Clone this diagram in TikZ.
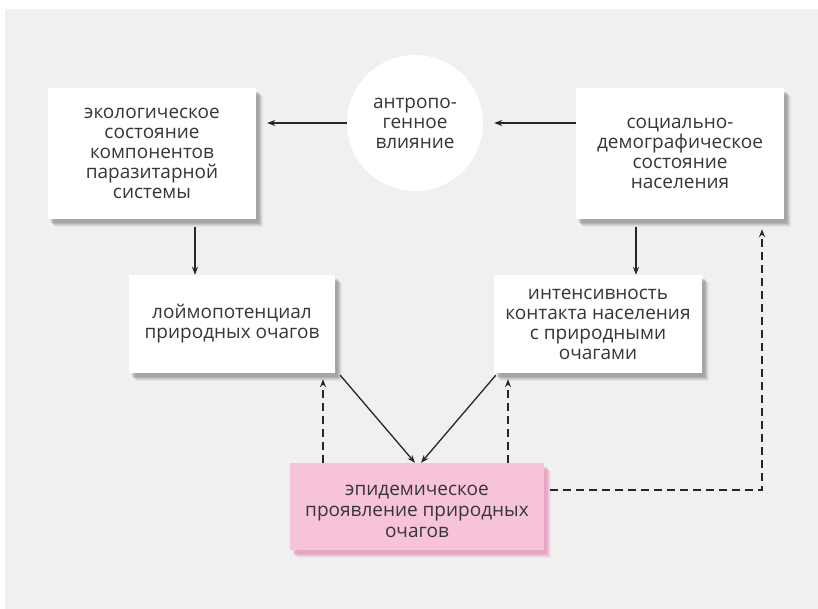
\documentclass[tikz,border=0pt]{standalone}
\usepackage{fontspec}
\setmainfont{Open Sans}
\usetikzlibrary{arrows.meta,shadows}
\definecolor{bgc}{HTML}{F0F0F0}
\definecolor{txt}{HTML}{363636}
\definecolor{pinkc}{HTML}{F7C3DA}
\definecolor{pinksh}{HTML}{E27FAE}
\definecolor{arrc}{HTML}{262626}
\tikzset{
  softshadow/.style={
    drop shadow={shadow xshift=7pt, shadow yshift=-8pt, fill=#1, opacity=0.10},
    drop shadow={shadow xshift=6pt, shadow yshift=-7pt, fill=#1, opacity=0.14},
    drop shadow={shadow xshift=5pt, shadow yshift=-6pt, fill=#1, opacity=0.18},
    drop shadow={shadow xshift=4pt, shadow yshift=-5pt, fill=#1, opacity=0.24},
    drop shadow={shadow xshift=3pt, shadow yshift=-4pt, fill=#1, opacity=0.28}},
  box/.style={rectangle, fill=white, text=txt, align=center, inner sep=0pt,
    font=\fontsize{19}{20}\selectfont, softshadow=gray},
  pinkbox/.style={rectangle, fill=pinkc, text=txt, align=center, inner sep=0pt,
    font=\fontsize{19}{21}\selectfont, softshadow=pinksh},
  circ/.style={circle, fill=white, text=txt, align=center, inner sep=0pt,
    font=\fontsize{19}{20}\selectfont},
  arr/.style={draw=arrc, line width=1.3pt, -{Stealth[length=8pt,width=6pt]}},
  dasharr/.style={arr, dash pattern=on 8pt off 5pt},
}
\begin{document}
\begin{tikzpicture}[x=1pt,y=-1pt]
\useasboundingbox (0,0) rectangle (818,609);
\fill[white] (0,0) rectangle (818,609);
\fill[bgc] (5,9) rectangle (818,609);

\node[box, minimum width=208pt, minimum height=131pt] (A) at (152,153.5)
  {экологическое\\состояние\\компонентов\\паразитарной\\системы};
\node[circ, minimum size=136pt] (B) at (415,123)
  {антропо-\\генное\\влияние};
\node[box, minimum width=208pt, minimum height=131pt] (C) at (680,153.5)
  {социально-\\демографическое\\состояние\\населения};
\node[box, minimum width=206pt, minimum height=98pt] (D) at (232,324)
  {лоймопотенциал\\природных очагов};
\node[box, minimum width=208pt, minimum height=98pt] (E) at (598,324)
  {интенсивность\\контакта населения\\с природными\\очагами};
\node[pinkbox, minimum width=254pt, minimum height=87pt] (F) at (417,506.5)
  {\parbox{250pt}{\centering\vspace*{10pt}эпидемическое\\проявление природных\\очагов}};

\draw[arr] (C.west |- B.east) -- ([xshift=11pt]B.east);
\draw[arr] (B.west) -- ([xshift=11pt]A.east |- B.west);
\draw[arr] ([xshift=43pt,yshift=-8pt]A.south) -- ([xshift=-37pt]D.north);
\draw[arr] ([xshift=-44pt,yshift=-8pt]C.south) -- ([xshift=38pt]E.north);
\draw[arr] ([xshift=5pt,yshift=-2pt]D.south east) -- ([xshift=-2pt]F.north);
\draw[arr] ([xshift=2pt,yshift=-2pt]E.south west) -- ([xshift=4pt]F.north);
\draw[dasharr] ([xshift=-94pt]F.north) -- ([xshift=91pt,yshift=-6pt]D.south);
\draw[dasharr] ([xshift=91pt]F.north) -- ([xshift=-90pt,yshift=-6pt]E.south);
\draw[dasharr] ([xshift=6pt,yshift=16.5pt]F.east) -| ([xshift=82pt,yshift=-10pt]C.south);
\end{tikzpicture}
\end{document}
